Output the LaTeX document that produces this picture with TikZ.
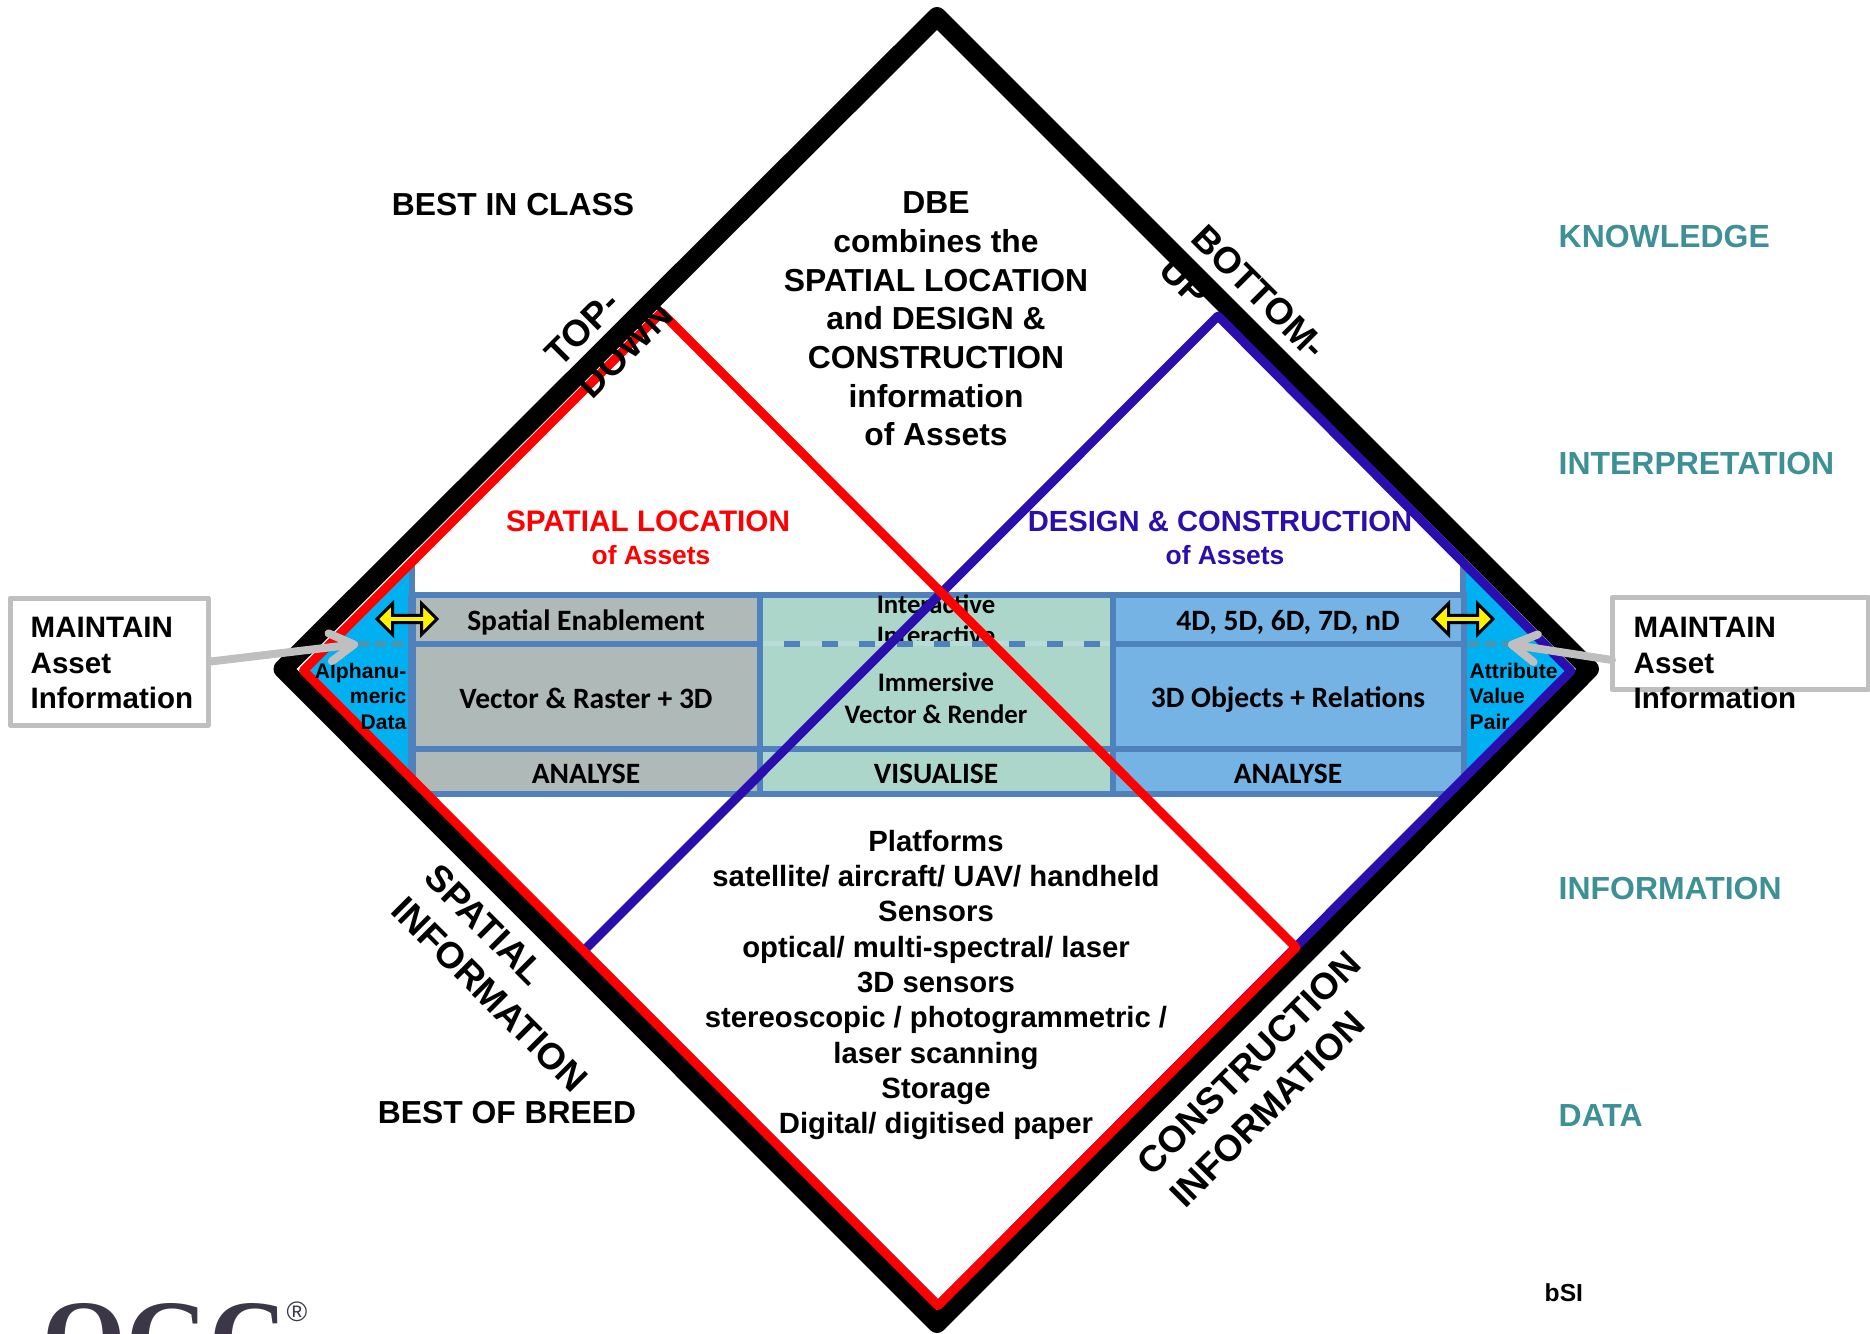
\documentclass[tikz,border=0pt]{standalone}
\usepackage{fontspec}
\usepackage{tikz}
\usetikzlibrary{arrows.meta,shapes.arrows}
\setmainfont{Liberation Sans}
\newfontfamily\cellfont{Carlito}
\newfontfamily\logofont{Liberation Serif}
\definecolor{tblue}{HTML}{4F81BD}
\definecolor{cgrey}{HTML}{AEB9B8}
\definecolor{cteal}{HTML}{ACD6C9}
\definecolor{cband}{HTML}{B8DDD6}
\definecolor{cblue}{HTML}{74B3E3}
\definecolor{ccyan}{HTML}{00B0F0}
\definecolor{cdash}{HTML}{4C94B0}
\definecolor{dblue}{HTML}{2A0EAE}
\definecolor{lteal}{HTML}{3C9096}
\definecolor{cgray}{HTML}{BFBFBF}
\definecolor{logo}{HTML}{3B3747}
\def\px{0.01cm}
\tikzset{
    bigt/.style={font=\bfseries\fontsize{9.05}{11}\selectfont,align=center,inner sep=0},
    headt/.style={font=\bfseries\fontsize{8.45}{11}\selectfont,align=center,inner sep=0},
    oft/.style={font=\bfseries\fontsize{7.5}{9}\selectfont,align=center,inner sep=0},
    listt/.style={font=\bfseries\fontsize{8.33}{10.05}\selectfont,align=center,inner sep=0},
    sidet/.style={font=\bfseries\fontsize{9.08}{11}\selectfont,text=lteal,anchor=west,inner sep=0},
    edget/.style={font=\bfseries\fontsize{10.5}{13}\selectfont,inner sep=0},
    cellt/.style={font=\cellfont\bfseries\fontsize{8.4}{9.2}\selectfont,align=center,inner sep=0},
    cellm/.style={font=\cellfont\bfseries\fontsize{7.6}{9}\selectfont,align=center,inner sep=0},
    trit/.style={font=\bfseries\fontsize{6}{7.25}\selectfont,inner sep=0},
    boxt/.style={font=\bfseries\fontsize{8.4}{10.2}\selectfont,align=left,anchor=west,inner sep=0},
    boxm/.style={draw=cgray,line width=5*\px,line join=round,inner sep=0},
    tline/.style={draw=tblue,line width=5.5*\px},
    move/.style={double arrow,draw=black,line width=3*\px,fill=yellow,inner sep=0,
        minimum height=60*\px,minimum width=31*\px,double arrow head extend=5*\px},
    callout/.style={draw=cgray,line width=8*\px,line cap=round,
        -{Straight Barb[length=24*\px,width=28*\px,round]}}
}
\begin{document}
\begin{tikzpicture}[x=0.01cm,y=-0.01cm]
    \useasboundingbox (0,0) rectangle (1870,1333);
    \fill[ccyan] (303,670) -- (412,560) -- (412,778) -- cycle;
    \fill[ccyan] (1571,671) -- (1464,564) -- (1464,774) -- cycle;
    \draw[tline] (412,560) -- (412,595);
    \draw[tline] (1463,563) -- (1463,595);
    \filldraw[tline,fill=cgrey] (412,595) rectangle (760,794);
    \filldraw[tline,fill=cteal] (760,595) rectangle (1113,794);
    \filldraw[tline,fill=cblue] (1113,595) rectangle (1464,794);
    \draw[tline,line width=8*\px] (412,595) -- (412,794);
    \draw[tline] (412,644) -- (760,644)
        (1113,644) -- (1464,644)
        (412,749) -- (1464,749);
    \draw[tline,draw=cdash,dash pattern=on 11*\px off 6*\px] (358,644) -- (408,644);
    \draw[tline,draw=cdash,dash pattern=on 11*\px off 6*\px] (1468,644) -- (1510,644);
    \draw (936,604) node(inter1) [cellm] {Interactive}
        (936,635) node(inter2) [cellm] {Interactive};
    \fill[cband] (763,641) rectangle (1110,646);
    \fill[cteal] (763,646) rectangle (1110,746);
    \draw[tline,dash pattern=on 16*\px off 21.5*\px] (784,644) -- (1110,644);
    \draw (586,622) node(enable) [cellt] {Spatial Enablement}
        (586,698) node(vector) [cellt] {Vector \& Raster + 3D}
        (586,774) node(analyse1) [cellt] {ANALYSE}
        (936,682) node(immerse) [cellm] {Immersive}
        (936,714) node(render) [cellm] {Vector \& Render}
        (936,774) node(visual) [cellt] {VISUALISE}
        (1288,622) node(dims) [cellt] {4D, 5D, 6D, 7D, nD}
        (1288,700) node(objects) [cellt] {3D Objects + Relations}
        (1288,774) node(analyse2) [cellt] {ANALYSE};
    \draw[line width=19*\px,line join=round] (937,16.5) -- (1589.5,669) -- (937,1323.5) -- (283,669) -- cycle;
    \draw[dblue,line width=9*\px,line join=round] (1218,316) -- (1571,671) -- (938,1305.5) -- (583.5,951) -- cycle;
    \draw[red,line width=9*\px,line join=round] (661.5,312.5) -- (303.5,670.5) -- (938,1305.5) -- (1296,947.5) -- cycle;
    \draw (407,696) node(alpha) [trit,align=right,anchor=east] {Alphanu-\\meric\\Data}
        (1469,696) node(attr) [trit,align=left,anchor=west] {Attribute\\Value\\Pair};
    \node(moveL) [move] at (407,619) {};
    \node(moveR) [move] at (1463,619) {};
    \node(boxL) [boxm,minimum width=198*\px,minimum height=127*\px] at (109,661.5) {};
    \node(boxR) [boxm,minimum width=256*\px,minimum height=92*\px] at (1740,643.5) {};
    \coordinate (tipL) at (358,644);
    \coordinate (tipR) at (1508,644);
    \coordinate (startR) at (1612,660);
    \draw[callout] (boxL.east) -- (tipL);
    \draw[callout] (startR) -- (tipR);
    \draw (30,663) node(maintain1) [boxt] {MAINTAIN\\Asset\\Information}
        (1633,663) node(maintain2) [boxt] {MAINTAIN\\Asset\\Information};
    \draw (513,205) node(best1) [bigt] {BEST IN CLASS}
        (507,1113) node(best2) [bigt] {BEST OF BREED}
        (936,319) node(dbe) [bigt] {DBE\\combines the\\SPATIAL LOCATION\\and DESIGN \&\\CONSTRUCTION\\information\\of Assets}
        (648,521) node(spatial) [headt,text=red] {SPATIAL LOCATION}
        (651,555) node(spatial2) [oft,text=red] {of Assets}
        (1220,521) node(design) [headt,font=\bfseries\fontsize{8.3}{11}\selectfont,text=dblue] {DESIGN \& CONSTRUCTION}
        (1225,555) node(design2) [oft,text=dblue] {of Assets}
        (936,985) node(platforms) [listt] {Platforms\\satellite/ aircraft/ UAV/ handheld\\Sensors\\optical/ multi-spectral/ laser\\3D sensors\\stereoscopic / photogrammetric /\\laser scanning\\Storage\\Digital/ digitised paper};
    \draw (1558,237) node(know) [sidet] {KNOWLEDGE}
        (1558,463) node(interp) [sidet] {INTERPRETATION}
        (1558,888) node(info) [sidet] {INFORMATION}
        (1558,1115) node(data) [sidet] {DATA}
        (1544,1293) node(bsi) [anchor=west,inner sep=0,font=\bfseries\fontsize{7}{8}\selectfont] {bSI};
    \draw (609,334) node(topdown) [edget,align=left,rotate=45] {TOP-\\DOWN}
        (1243,308) node(bottomup) [edget,align=left,rotate=-45] {BOTTOM-\\UP}
        (506,978) node(spinfo) [edget,align=left,rotate=-45] {SPATIAL\\INFORMATION}
        (1265,1079) node(coninfo) [edget,align=left,rotate=45] {CONSTRUCTION\\INFORMATION};
    \begin{scope}
    \clip (0,0) rectangle (1870,1333);
    \draw (42,1303) node(ogc) [anchor=north west,inner sep=0,text=logo,font=\logofont\bfseries\fontsize{30.5}{31}\selectfont] {OGC};
    \end{scope}
    \draw (297,1312) node(regd) [inner sep=0,text=logo,font=\fontsize{8}{9}\selectfont] {\textregistered};
\end{tikzpicture}
\end{document}
